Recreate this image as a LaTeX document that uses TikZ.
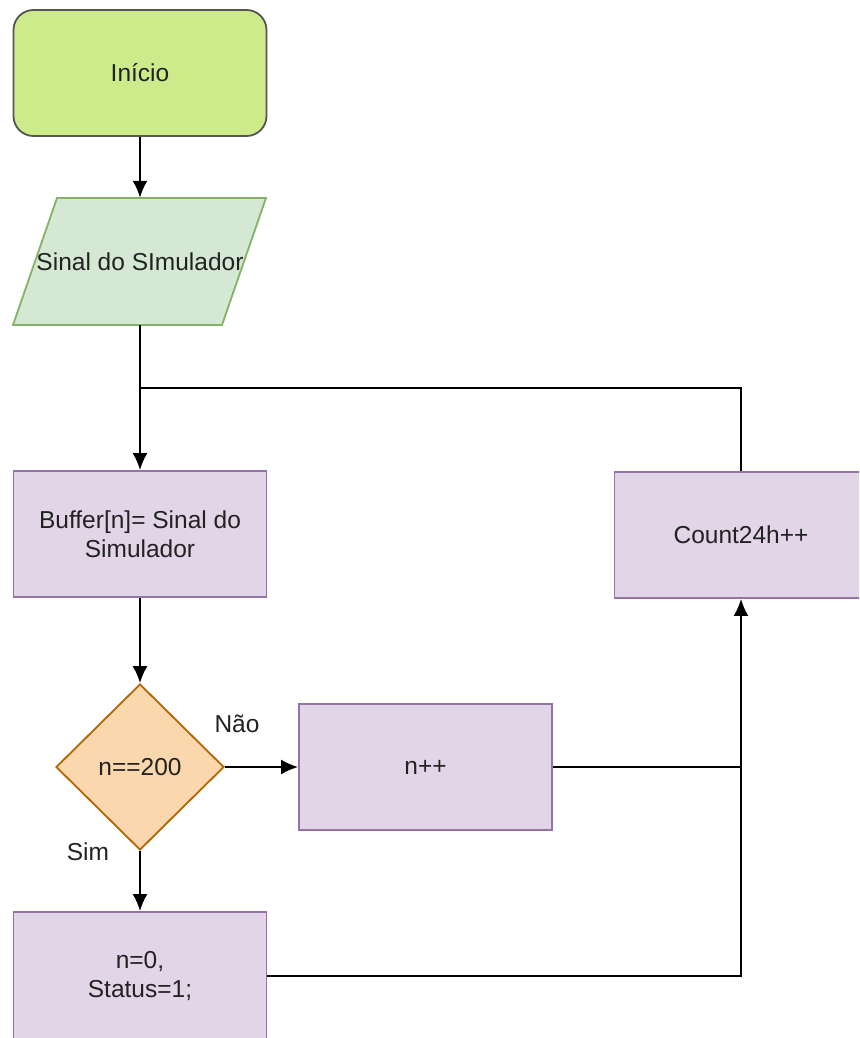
\documentclass[tikz,border=0pt]{standalone}
\usepackage{fontspec}
\setmainfont{Liberation Sans}
\usetikzlibrary{shapes.geometric,arrows.meta}

\definecolor{startfill}{HTML}{CDEB8B}
\definecolor{startline}{HTML}{555555}
\definecolor{iofill}{HTML}{D5E8D4}
\definecolor{ioline}{HTML}{82B366}
\definecolor{procfill}{HTML}{E1D5E7}
\definecolor{procline}{HTML}{9673A6}
\definecolor{decfill}{HTML}{FAD7AC}
\definecolor{decline}{HTML}{B46504}
\definecolor{txt}{HTML}{222222}

\tikzset{
  base/.style={font=\fontsize{24.5}{29}\selectfont, text=txt, align=center, inner sep=0pt},
  startbox/.style={base, rectangle, rounded corners=20pt, fill=startfill, draw=startline,
    line width=1.8pt, minimum width=253pt, minimum height=126pt},
  procbox/.style={base, rectangle, fill=procfill, draw=procline, line width=1.8pt,
    minimum width=253pt, minimum height=126pt},
  decbox/.style={base, diamond, fill=decfill, draw=decline, line width=1.8pt,
    minimum width=168pt, minimum height=166pt},
  lbl/.style={base},
  link/.style={draw=black, line width=2pt},
  arr/.style={link, -{Latex[length=17pt,width=15pt]}},
}

\begin{document}
\begin{tikzpicture}[x=1pt,y=-1pt]
  \fill[white] (0,0) rectangle (859,1038);
  \clip (0,0) rectangle (859,1038);
  \useasboundingbox (0,0) rectangle (859,1038);

  % start
  \node[startbox] (start) at (140,73) {Início};

  % input parallelogram
  \filldraw[fill=iofill, draw=ioline, line width=1.8pt]
    (57,198) -- (266,198) -- (222,325) -- (13,325) -- cycle;
  \node[base, minimum width=253pt, minimum height=127pt] (sig) at (140,261.5) {Sinal do SImulador};

  % processing
  \node[procbox] (buf) at (140,534) {Buffer[n]= Sinal do\\Simulador};
  \node[decbox] (dec) at (140,767) {n==200};
  \node[procbox] (inc) at (425.5,767) {n++};
  \node[procbox] (cnt) at (741,535) {Count24h++};
  \node[procbox, minimum height=128pt] (rst) at (140,976) {n=0,\\Status=1;};

  % junction points
  \coordinate (join) at (140,388);
  \coordinate (merge) at (741,767);

  % connectors
  \draw[arr] (start.south) -- (sig.north);
  \draw[arr] (sig.south) -- (buf.north);
  \draw[link] (cnt.north) |- (join);
  \draw[arr] (buf.south) -- (dec.north);
  \draw[arr] (dec.east) -- (inc.west);
  \draw[arr] (inc.east) -| (cnt.south);
  \draw[arr] (dec.south) -- (rst.north);
  \draw[link] (rst.east) -| (merge);

  % branch labels
  \node[lbl] (no) at (237,724) {Não};
  \node[lbl] (yes) at (88,852) {Sim};
\end{tikzpicture}
\end{document}
